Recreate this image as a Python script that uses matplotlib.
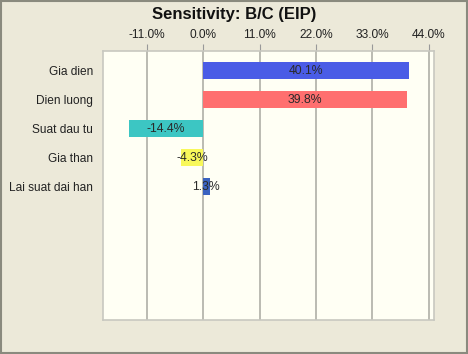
import numpy as np
import matplotlib.pyplot as plt
from matplotlib.patches import Rectangle

plt.rcParams['font.family'] = ['Liberation Sans', 'DejaVu Sans']

# dados
labels = ["Gia dien", "Dien luong", "Suat dau tu", "Gia than", "Lai suat dai han"]
values = [40.1, 39.8, -14.4, -4.3, 1.3]
colors = ["#4a5ce6", "#ff6f6f", "#3cc6c3", "#f8f85a", "#3a62c0"]
ticks = [-11.0, 0.0, 11.0, 22.0, 33.0, 44.0]

W, H = 468, 354
fig = plt.figure(figsize=(W / 100, H / 100), dpi=100, facecolor="#ece9d9")
# borda externa
fig.patches.append(Rectangle((0.002, 0.003), 0.995, 0.993, transform=fig.transFigure,
                             fill=False, edgecolor="#8a8a7e", linewidth=1.5))

left, right, top, bottom = 103, 434, 51, 320
ax = fig.add_axes([left / W, 1 - bottom / H, (right - left) / W, (bottom - top) / H])
ax.set_facecolor("#fffff4")

y = np.arange(len(labels))
ax.barh(y, values, height=0.59, color=colors, zorder=3)
for yi, v in zip(y, values):
    ax.text(v / 2, yi, f"{v:.1f}%", ha="center", va="center", fontsize=8.8,
            color="#2a2a2a", zorder=4)

ax.set_xlim(-19.5, 45.0)
ax.set_ylim(8.59, -0.68)
ax.set_yticks(y)
ax.set_yticklabels(labels, fontsize=8.6, color="#222222")
ax.tick_params(axis="y", length=0, pad=7)

ax.xaxis.tick_top()
ax.set_xticks(ticks)
ax.set_xticklabels([f"{t:.1f}%" for t in ticks], fontsize=8.6, color="#222222")
ax.tick_params(axis="x", length=5, color="#999999", pad=2)
ax.grid(axis="x", color="#a8a8a0", linewidth=1.1, zorder=1)

for s in ax.spines.values():
    s.set_color("#c8c8c0")
    s.set_linewidth(1.2)

fig.text(0.5, 1 - 14 / H, "Sensitivity: B/C (EIP)", ha="center", va="center",
         fontsize=12, fontweight="bold", color="#111111")

fig.savefig("out.png", dpi=100, facecolor=fig.get_facecolor())
